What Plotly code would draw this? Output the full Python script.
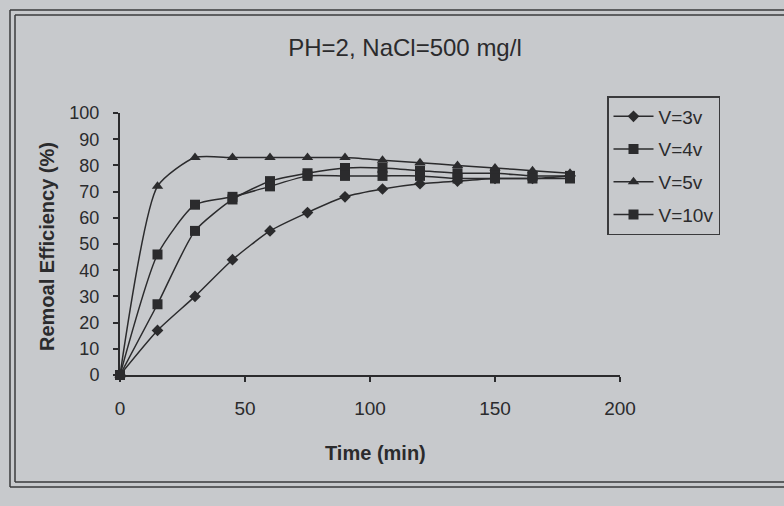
import plotly.graph_objects as go

time_min = [0, 15, 30, 45, 60, 75, 90, 105, 120, 135, 150, 165, 180]
v3 = [0, 17, 30, 44, 55, 62, 68, 71, 73, 74, 75, 75, 76]
v4 = [0, 27, 55, 67, 74, 77, 79, 79, 78, 77, 77, 76, 76]
v5 = [0, 72, 83, 83, 83, 83, 83, 82, 81, 80, 79, 78, 77]
v10 = [0, 46, 65, 68, 72, 76, 76, 76, 76, 75, 75, 75, 75]
series_names = ["V=3v", "V=4v", "V=5v", "V=10v"]
x_ticks = [0, 50, 100, 150, 200]
y_ticks = [0, 10, 20, 30, 40, 50, 60, 70, 80, 90, 100]

INK = "#2b2b2d"
BG = "rgb(199,201,204)"
FONT = "Arial, Liberation Sans, sans-serif"

W, H = 784, 506
L, R, T, B = 120, 164, 113, 131
pw, ph = W - L - R, H - T - B


def px(x):
    return (x - L) / pw


def py(y):
    return (H - B - y) / ph


fig = go.Figure()
symbols = ["diamond", "square", "triangle-up", "square"]
sizes = [9, 10, 10, 10]
for i, (name, ys) in enumerate(zip(series_names, [v3, v4, v5, v10])):
    fig.add_trace(go.Scatter(
        x=time_min, y=ys, name=name, mode="lines+markers",
        line=dict(color=INK, width=1.5, shape="spline", smoothing=0.6),
        marker=dict(symbol=symbols[i], size=sizes[i], color=INK),
        cliponaxis=False, legendgroup=name,
    ))

shapes = []
# double frame
for off in (0, 5):
    shapes.append(dict(type="line", xref="paper", yref="paper",
                       x0=px(10 + off), x1=px(784), y0=py(10 + off), y1=py(10 + off),
                       line=dict(color="#3a3a3c", width=1.5)))
    shapes.append(dict(type="line", xref="paper", yref="paper",
                       x0=px(10 + off), x1=px(10 + off), y0=py(10 + off), y1=py(487 - off),
                       line=dict(color="#3a3a3c", width=1.5)))
    shapes.append(dict(type="line", xref="paper", yref="paper",
                       x0=px(10 + off), x1=px(784), y0=py(487 - off), y1=py(487 - off),
                       line=dict(color="#3a3a3c", width=1.5)))

fig.update_layout(
    width=W, height=H,
    margin=dict(l=L, r=R, t=T, b=B),
    paper_bgcolor=BG, plot_bgcolor=BG,
    font=dict(family=FONT, color=INK, size=14),
    title=dict(text="PH=2, NaCl=500 mg/l", x=405 / W, xanchor="center",
               y=1 - 48 / H, yanchor="middle",
               font=dict(size=24, family=FONT, color=INK)),
    xaxis=dict(range=[0, 200], tickvals=x_ticks, showgrid=False, zeroline=False,
               showline=True, linecolor=INK, linewidth=2, ticks="outside",
               ticklen=5, tickcolor=INK, tickwidth=1.5,
               tickfont=dict(size=19, color=INK), ticklabelstandoff=10),
    yaxis=dict(range=[0, 100], tickvals=y_ticks, showgrid=False, zeroline=False,
               showline=True, linecolor=INK, linewidth=2, ticks="outside",
               ticklen=5, tickcolor=INK, tickwidth=1.5,
               tickfont=dict(size=18, color=INK), ticklabelstandoff=10),
    legend=dict(x=px(607), y=py(96), xanchor="left", yanchor="top",
                bgcolor="rgba(0,0,0,0)", bordercolor="#3a3a3c", borderwidth=1.5,
                font=dict(size=19, color=INK), tracegroupgap=5,
                itemwidth=40),
    showlegend=True,
    shapes=shapes,
    annotations=[
        dict(text="<b>Remoal Efficiency (%)</b>", textangle=-90, x=px(47), y=py(247),
             xref="paper", yref="paper", xanchor="center", yanchor="middle",
             showarrow=False, font=dict(size=20, color=INK, family=FONT)),
        dict(text="<b>Time (min)</b>", x=px(375), y=py(453), xref="paper", yref="paper",
             xanchor="center", yanchor="middle",
             showarrow=False, font=dict(size=20, color=INK, family=FONT)),
    ],
)

fig.write_html("out.html")
